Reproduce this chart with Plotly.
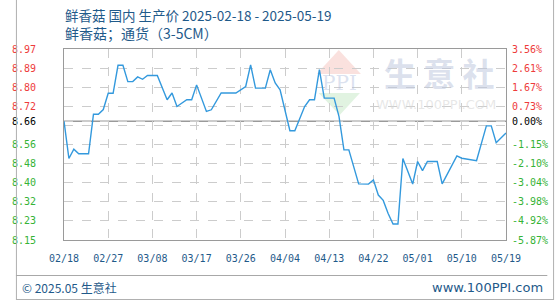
import plotly.graph_objects as go
import numpy as np
import pandas as pd

# ---------------- data ----------------
start_date = "2025-02-18"
end_date = "2025-05-19"
day_offsets = [0, 1, 2, 3, 5, 6, 7, 8, 9, 10, 11, 12, 13, 14, 15, 16, 17, 19,
               21, 22, 23, 25, 26, 27, 29, 30, 32, 35, 37, 38, 39, 41, 42, 43,
               44, 46, 47, 49, 50, 51, 52, 53, 55, 56, 57, 58, 60, 62, 63, 64,
               65, 66, 67, 68, 69, 71, 72, 73, 74, 76, 77, 80, 81, 84, 86, 87,
               88, 89, 90]
prices = [8.66, 8.50, 8.54, 8.52, 8.52, 8.69, 8.69, 8.71, 8.78, 8.78, 8.90, 8.90,
          8.83, 8.83, 8.85, 8.84, 8.856, 8.856,
          8.752, 8.781, 8.723, 8.752, 8.752, 8.816, 8.702, 8.709, 8.781, 8.781,
          8.809, 8.902, 8.802, 8.802, 8.881, 8.824,
          8.795, 8.619, 8.619, 8.723, 8.752, 8.752, 8.881, 8.759, 8.759, 8.68,
          8.537, 8.537, 8.391, 8.39, 8.408, 8.343,
          8.32, 8.264, 8.219, 8.219, 8.50, 8.39, 8.487, 8.448, 8.487, 8.487,
          8.391, 8.511, 8.501, 8.49, 8.64, 8.64,
          8.568, 8.587, 8.609]
base_value = 8.66
y_min, y_max = 8.15, 8.97
left_tick_labels = ["8.15", "8.23", "8.32", "8.40", "8.48", "8.56", "", "8.72", "8.80", "8.89", "8.97"]
right_tick_labels = ["-5.87%", "-4.92%", "-3.98%", "-3.04%", "-2.10%", "-1.15%", "", "0.73%", "1.67%", "2.61%", "3.56%"]
base_left_label = "8.66"
base_right_label = "0.00%"
x_tick_dates = ["2025-02-18", "2025-02-27", "2025-03-08", "2025-03-17", "2025-03-26",
                "2025-04-04", "2025-04-13", "2025-04-22", "2025-05-01", "2025-05-10", "2025-05-19"]
title_line1 = "鲜香菇 国内 生产价 2025-02-18 - 2025-05-19"
title_line2 = "鲜香菇；通货（3-5CM）"
footer_left = "© 2025.05 生意社"
footer_right = "www.100PPI.com"

# ---------------- styling ----------------
W, H = 560, 300
ML, MR, MT, MB = 50, 50, 49, 60
PW, PH = W - ML - MR, H - MT - MB
RED, GREEN, BLACK = "#ee3b3b", "#36b336", "#000000"
TEXT_BLUE = "#1f5a8a"
LINE_BLUE = "#3399dd"
MONO = "DejaVu Sans Mono"
CJK = "Noto Sans CJK SC"

def px(x):
    return (x - ML) / PW

def py(y):
    return (H - MB - y) / PH

dates = pd.to_datetime(start_date) + pd.to_timedelta(day_offsets, unit="D")

grid_vals = list(np.linspace(y_min, y_max, len(left_tick_labels)))

def colorize(labels, vals):
    out = []
    for t, v in zip(labels, vals):
        if t == "":
            out.append("")
        elif v > base_value:
            out.append(f'<span style="color:{RED}">{t}</span>')
        else:
            out.append(f'<span style="color:{GREEN}">{t}</span>')
    return out

left_vals = grid_vals + [base_value]
left_text = colorize(left_tick_labels, grid_vals) + [f'<span style="color:{BLACK}">{base_left_label}</span>']
right_text = colorize(right_tick_labels, grid_vals) + [f'<span style="color:{BLACK}">{base_right_label}</span>']

fig = go.Figure()
fig.add_trace(go.Scatter(x=dates, y=prices, mode="lines",
                         line=dict(color=LINE_BLUE, width=1.4), showlegend=False,
                         hoverinfo="x+y"))
fig.add_trace(go.Scatter(x=dates, y=prices, mode="lines", yaxis="y2",
                         line=dict(color="rgba(0,0,0,0)", width=0), showlegend=False,
                         hoverinfo="skip"))

grid_style = dict(showgrid=True, gridcolor="#cccccc", griddash="dash", gridwidth=1,
                  zeroline=False)

fig.update_layout(
    width=W, height=H,
    margin=dict(l=ML, r=MR, t=MT, b=MB, pad=0),
    paper_bgcolor="white", plot_bgcolor="white",
    xaxis=dict(type="date", range=[start_date, end_date],
               tickvals=x_tick_dates, tickformat="%m/%d",
               tickfont=dict(family=MONO, size=10, color=TEXT_BLUE),
               ticks="", ticklabelstandoff=9,
               showline=True, linecolor="#9a9a9a", linewidth=1, mirror=True,
               **grid_style),
    yaxis=dict(range=[y_min, y_max], tickvals=left_vals, ticktext=left_text,
               tickfont=dict(family=MONO, size=10),
               ticks="", ticklabelstandoff=25,
               showline=True, linecolor="#9a9a9a", linewidth=1, mirror=True,
               **grid_style),
    yaxis2=dict(range=[y_min, y_max], tickvals=left_vals, ticktext=right_text,
                overlaying="y", side="right",
                tickfont=dict(family=MONO, size=10),
                ticks="", ticklabelstandoff=5, showgrid=False, zeroline=False,
                showline=False),
    font=dict(family=CJK),
    showlegend=False,
)

shapes = []
# baseline
shapes.append(dict(type="line", xref="paper", yref="y", x0=0, x1=1, y0=base_value, y1=base_value,
                   line=dict(color="#9a9a9a", width=1.5), layer="below"))
# watermark logo
shapes.append(dict(type="path", xref="paper", yref="paper", layer="below",
                   path=f"M {px(313)} {py(74)} L {px(336)} {py(50)} L {px(359)} {py(74)} Z",
                   fillcolor="rgba(242,170,160,0.35)", line=dict(width=0)))
shapes.append(dict(type="path", xref="paper", yref="paper", layer="below",
                   path=f"M {px(315)} {py(93)} L {px(358)} {py(93)} L {px(337)} {py(115)} Z",
                   fillcolor="rgba(170,220,170,0.35)", line=dict(width=0)))
# outer frame & footer separator
shapes.append(dict(type="line", xref="paper", yref="paper", x0=px(0.5), x1=px(0.5), y0=py(0), y1=py(299.5),
                   line=dict(color="#b0b0b0", width=1)))
shapes.append(dict(type="line", xref="paper", yref="paper", x0=px(0), x1=px(560), y0=py(299.5), y1=py(299.5),
                   line=dict(color="#b0b0b0", width=1)))
shapes.append(dict(type="line", xref="paper", yref="paper", x0=px(559.5), x1=px(559.5), y0=py(0), y1=py(299.5),
                   line=dict(color="#b0b0b0", width=1)))
shapes.append(dict(type="line", xref="paper", yref="paper", x0=px(0), x1=px(553), y0=py(275.5), y1=py(275.5),
                   line=dict(color="#a8a8a8", width=1)))
fig.update_layout(shapes=shapes)

ann = []
ann.append(dict(text=title_line1, xref="paper", yref="paper", x=px(49), y=py(15), xanchor="left", yanchor="middle",
                showarrow=False, font=dict(family=CJK, size=13.5, color=TEXT_BLUE)))
ann.append(dict(text=title_line2, xref="paper", yref="paper", x=px(49), y=py(33), xanchor="left", yanchor="middle",
                showarrow=False, font=dict(family=CJK, size=14, color=TEXT_BLUE)))
ann.append(dict(text=footer_left, xref="paper", yref="paper", x=px(4), y=py(287), xanchor="left", yanchor="middle",
                showarrow=False, font=dict(family=CJK, size=12, color=TEXT_BLUE)))
ann.append(dict(text=footer_right, xref="paper", yref="paper", x=px(551), y=py(287), xanchor="right", yanchor="middle",
                showarrow=False, font=dict(family="DejaVu Sans", size=13, color=TEXT_BLUE)))
# watermark text
ann.append(dict(text="PPI", xref="paper", yref="paper", x=px(337), y=py(83), xanchor="center", yanchor="middle",
                showarrow=False, font=dict(family="DejaVu Serif", size=20, color="rgba(175,190,220,0.45)")))
ann.append(dict(text="<b>生 意 社</b>", xref="paper", yref="paper", x=px(441), y=py(72), xanchor="center", yanchor="middle",
                showarrow=False, font=dict(family=CJK, size=32, color="rgba(190,200,222,0.55)")))
ann.append(dict(text="WWW.100PPI.COM", xref="paper", yref="paper", x=px(437), y=py(104), xanchor="center", yanchor="middle",
                showarrow=False, font=dict(family="DejaVu Sans", size=13, color="rgba(215,215,215,0.6)")))
fig.update_layout(annotations=ann)

fig.write_html("out.html")
